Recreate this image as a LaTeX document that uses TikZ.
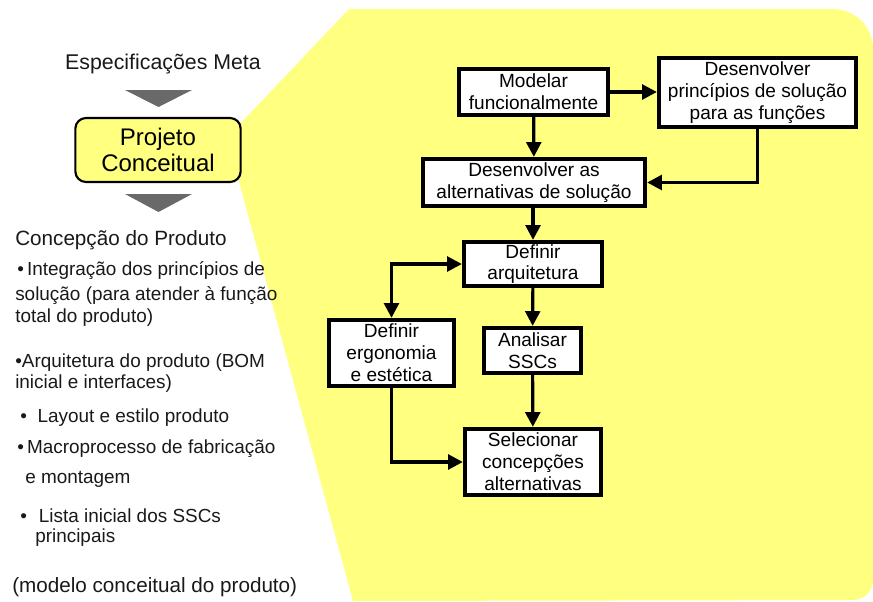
\documentclass[tikz,border=0pt]{standalone}
\usepackage{fontspec}
\setmainfont{Liberation Sans}
\usetikzlibrary{arrows.meta, positioning, calc}
\definecolor{paleyellow}{RGB}{255,255,128}
\definecolor{arrowgray}{RGB}{105,105,105}
\definecolor{textgray}{RGB}{25,25,25}

\begin{document}
\begin{tikzpicture}[
    x=0.75pt, y=-0.75pt,
    stepbox/.style={draw, line width=3.2pt, fill=white, align=center, inner sep=0pt,
                    font=\fontsize{14.3}{16.4}\selectfont},
    ar/.style={-{Triangle[length=11pt,width=11pt]}, line width=2.4pt},
    dar/.style={{Triangle[length=11pt,width=11pt]}-{Triangle[length=11pt,width=11pt]}, line width=2.4pt},
    head/.style={anchor=base west, inner sep=0pt, text=textgray, font=\fontsize{15.5}{18}\selectfont},
    item/.style={anchor=base west, inner sep=0pt, text=textgray, font=\fontsize{14.2}{16}\selectfont},
]
\useasboundingbox (0,0) rectangle (873,601);
% yellow field behind the flow
\fill[paleyellow] (349,9) -- (833,9) arc[start angle=-90, end angle=0, radius=40]
    -- (873,580) arc[start angle=0, end angle=90, radius=20]
    -- (353,601) -- (238,178) -- (238,126) -- cycle;

% left column
\node[font=\fontsize{16}{18}\selectfont, text=textgray] (spec) at (163,64) {Especificações Meta};
\node[draw, line width=1.6pt, rounded corners=8pt, fill=paleyellow, align=center,
      minimum width=124pt, minimum height=48pt, inner sep=0pt,
      font=\fontsize{18}{19.5}\selectfont] (proj) at (158,150) {Projeto\\Conceitual};
\fill[arrowgray] (125,90) -- (192,90) -- (158.5,107) -- cycle;
\fill[arrowgray] (125,194) -- (192,194) -- (158.5,212) -- cycle;

\node[head] (concep) at (15,245) {Concepção do Produto};
\node[item] (i1a) at (17,275) {\textbullet\,Integração dos princípios de};
\node[item] (i1b) at (15,300) {solução (para atender à função};
\node[item] (i1c) at (15,322) {total do produto)};
\node[item] (i2a) at (15,367) {\textbullet Arquitetura do produto (BOM};
\node[item] (i2b) at (15,388) {inicial e interfaces)};
\node[item] (i3)  at (20,422) {\textbullet\hspace{8pt}Layout e estilo produto};
\node[item] (i4a) at (17,453) {\textbullet\,Macroprocesso de fabricação};
\node[item] (i4b) at (25,483) {e montagem};
\node[item] (i5a) at (20,522) {\textbullet\hspace{9pt}Lista inicial dos SSCs};
\node[item] (i5b) at (35,542) {principais};
\node[head] (foot) at (12,592) {(modelo conceitual do produto)};

% flow boxes
\node[stepbox, minimum width={149*0.75pt}, minimum height={46*0.75pt}] (model) at (533.5,92) {Modelar\\funcionalmente};
\node[stepbox, minimum width={197*0.75pt}, minimum height={69*0.75pt}] (princ) at (757.5,92.5) {Desenvolver\\princípios de solução\\para as funções};
\node[stepbox, minimum width={222*0.75pt}, minimum height={47*0.75pt}] (altern) at (534,182.5) {Desenvolver as\\alternativas de solução};
\node[stepbox, minimum width={138*0.75pt}, minimum height={44*0.75pt}] (arq) at (533,264) {Definir\\arquitetura};
\node[stepbox, minimum width={125*0.75pt}, minimum height={66*0.75pt}] (ergo) at (391.5,353) {Definir\\ergonomia\\e estética};
\node[stepbox, minimum width={97*0.75pt}, minimum height={45*0.75pt}] (analis) at (532.5,350.5) {Analisar\\SSCs};
\node[stepbox, minimum width={136*0.75pt}, minimum height={66*0.75pt}] (selec) at (533,462) {Selecionar\\concepções\\alternativas};

% connectors
\draw[ar] (model.east) -- (princ.west |- model.east);
\draw[ar] (model) -- (altern);
\draw[ar] (princ.south) |- (altern.east);
\draw[ar] (altern.south -| arq.north) -- (arq.north);
\draw[dar] (ergo.north) |- (arq.west);
\draw[ar] (arq) -- (analis);
\draw[ar] (analis) -- (selec);
\draw[ar] (ergo.south) |- (selec.west);
\end{tikzpicture}
\end{document}
